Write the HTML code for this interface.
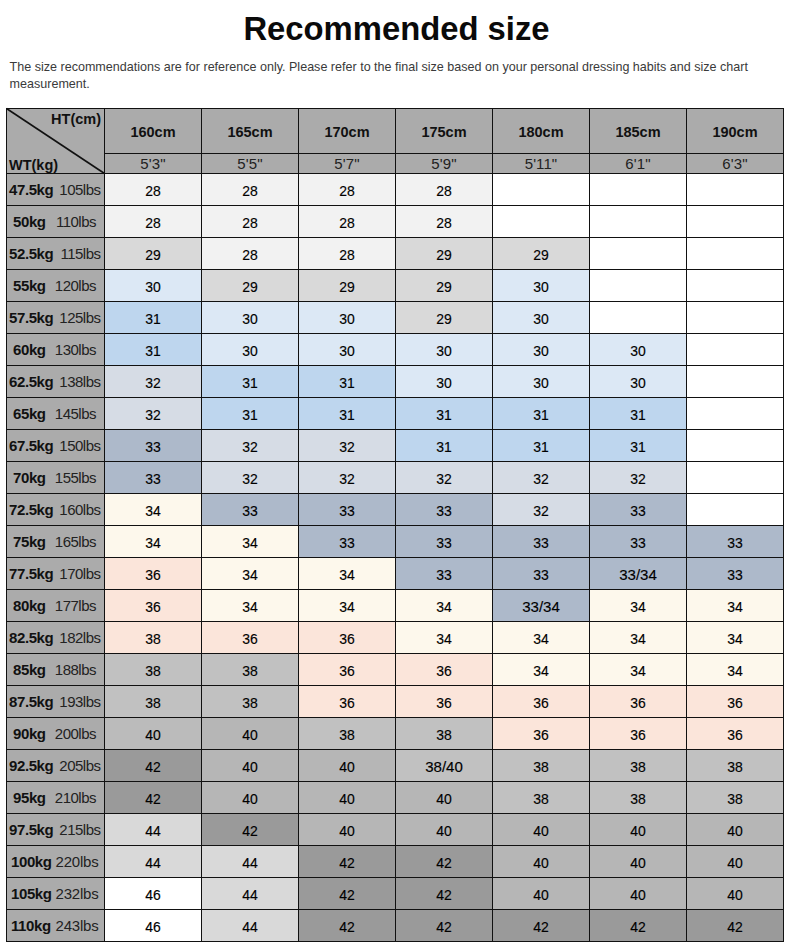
<!DOCTYPE html>
<html><head><meta charset="utf-8"><style>
html,body{margin:0;padding:0;background:#fff;}
body{width:790px;height:945px;position:relative;overflow:hidden;font-family:"Liberation Sans",sans-serif;color:#111;}
.a{position:absolute;}
.c{position:absolute;text-align:center;white-space:nowrap;}
.h{position:absolute;background:#111;}
.t{font-size:15.5px;line-height:15.5px;transform:scaleX(0.9);color:#000;-webkit-text-stroke:0.15px #000;}
.t2{transform:scaleX(0.97);}
.b{font-weight:bold;}
</style></head><body>
<div class="a b" style="left:1px;width:791px;top:11.6px;text-align:center;font-size:32.8px;line-height:33px;color:#0a0a0a;">Recommended size</div>
<div class="a" style="left:9.6px;top:59px;font-size:12.56px;line-height:17px;color:#3a3a3a;white-space:nowrap;">The size recommendations are for reference only. Please refer to the final size based on your personal dressing habits and size chart<br>measurement.</div>
<div class="a" style="left:6px;top:108px;width:777px;height:65px;background:#ababab;"></div>
<div class="a" style="left:6px;top:173px;width:98px;height:768px;background:#ababab;"></div>
<div class="a" style="left:104px;top:173px;width:97px;height:32px;background:#f2f2f2;"></div>
<div class="a" style="left:201px;top:173px;width:97px;height:32px;background:#f2f2f2;"></div>
<div class="a" style="left:298px;top:173px;width:97px;height:32px;background:#f2f2f2;"></div>
<div class="a" style="left:395px;top:173px;width:97px;height:32px;background:#f2f2f2;"></div>
<div class="a" style="left:492px;top:173px;width:97px;height:32px;background:#ffffff;"></div>
<div class="a" style="left:589px;top:173px;width:97px;height:32px;background:#ffffff;"></div>
<div class="a" style="left:686px;top:173px;width:97px;height:32px;background:#ffffff;"></div>
<div class="a" style="left:104px;top:205px;width:97px;height:32px;background:#f2f2f2;"></div>
<div class="a" style="left:201px;top:205px;width:97px;height:32px;background:#f2f2f2;"></div>
<div class="a" style="left:298px;top:205px;width:97px;height:32px;background:#f2f2f2;"></div>
<div class="a" style="left:395px;top:205px;width:97px;height:32px;background:#f2f2f2;"></div>
<div class="a" style="left:492px;top:205px;width:97px;height:32px;background:#ffffff;"></div>
<div class="a" style="left:589px;top:205px;width:97px;height:32px;background:#ffffff;"></div>
<div class="a" style="left:686px;top:205px;width:97px;height:32px;background:#ffffff;"></div>
<div class="a" style="left:104px;top:237px;width:97px;height:32px;background:#d9d9d9;"></div>
<div class="a" style="left:201px;top:237px;width:97px;height:32px;background:#f2f2f2;"></div>
<div class="a" style="left:298px;top:237px;width:97px;height:32px;background:#f2f2f2;"></div>
<div class="a" style="left:395px;top:237px;width:97px;height:32px;background:#d9d9d9;"></div>
<div class="a" style="left:492px;top:237px;width:97px;height:32px;background:#d9d9d9;"></div>
<div class="a" style="left:589px;top:237px;width:97px;height:32px;background:#ffffff;"></div>
<div class="a" style="left:686px;top:237px;width:97px;height:32px;background:#ffffff;"></div>
<div class="a" style="left:104px;top:269px;width:97px;height:32px;background:#dce8f5;"></div>
<div class="a" style="left:201px;top:269px;width:97px;height:32px;background:#d9d9d9;"></div>
<div class="a" style="left:298px;top:269px;width:97px;height:32px;background:#d9d9d9;"></div>
<div class="a" style="left:395px;top:269px;width:97px;height:32px;background:#d9d9d9;"></div>
<div class="a" style="left:492px;top:269px;width:97px;height:32px;background:#dce8f5;"></div>
<div class="a" style="left:589px;top:269px;width:97px;height:32px;background:#ffffff;"></div>
<div class="a" style="left:686px;top:269px;width:97px;height:32px;background:#ffffff;"></div>
<div class="a" style="left:104px;top:301px;width:97px;height:32px;background:#bed6ee;"></div>
<div class="a" style="left:201px;top:301px;width:97px;height:32px;background:#dce8f5;"></div>
<div class="a" style="left:298px;top:301px;width:97px;height:32px;background:#dce8f5;"></div>
<div class="a" style="left:395px;top:301px;width:97px;height:32px;background:#d9d9d9;"></div>
<div class="a" style="left:492px;top:301px;width:97px;height:32px;background:#dce8f5;"></div>
<div class="a" style="left:589px;top:301px;width:97px;height:32px;background:#ffffff;"></div>
<div class="a" style="left:686px;top:301px;width:97px;height:32px;background:#ffffff;"></div>
<div class="a" style="left:104px;top:333px;width:97px;height:32px;background:#bed6ee;"></div>
<div class="a" style="left:201px;top:333px;width:97px;height:32px;background:#dce8f5;"></div>
<div class="a" style="left:298px;top:333px;width:97px;height:32px;background:#dce8f5;"></div>
<div class="a" style="left:395px;top:333px;width:97px;height:32px;background:#dce8f5;"></div>
<div class="a" style="left:492px;top:333px;width:97px;height:32px;background:#dce8f5;"></div>
<div class="a" style="left:589px;top:333px;width:97px;height:32px;background:#dce8f5;"></div>
<div class="a" style="left:686px;top:333px;width:97px;height:32px;background:#ffffff;"></div>
<div class="a" style="left:104px;top:365px;width:97px;height:32px;background:#d6dce5;"></div>
<div class="a" style="left:201px;top:365px;width:97px;height:32px;background:#bed6ee;"></div>
<div class="a" style="left:298px;top:365px;width:97px;height:32px;background:#bed6ee;"></div>
<div class="a" style="left:395px;top:365px;width:97px;height:32px;background:#dce8f5;"></div>
<div class="a" style="left:492px;top:365px;width:97px;height:32px;background:#dce8f5;"></div>
<div class="a" style="left:589px;top:365px;width:97px;height:32px;background:#dce8f5;"></div>
<div class="a" style="left:686px;top:365px;width:97px;height:32px;background:#ffffff;"></div>
<div class="a" style="left:104px;top:397px;width:97px;height:32px;background:#d6dce5;"></div>
<div class="a" style="left:201px;top:397px;width:97px;height:32px;background:#bed6ee;"></div>
<div class="a" style="left:298px;top:397px;width:97px;height:32px;background:#bed6ee;"></div>
<div class="a" style="left:395px;top:397px;width:97px;height:32px;background:#bed6ee;"></div>
<div class="a" style="left:492px;top:397px;width:97px;height:32px;background:#bed6ee;"></div>
<div class="a" style="left:589px;top:397px;width:97px;height:32px;background:#bed6ee;"></div>
<div class="a" style="left:686px;top:397px;width:97px;height:32px;background:#ffffff;"></div>
<div class="a" style="left:104px;top:429px;width:97px;height:32px;background:#adb9ca;"></div>
<div class="a" style="left:201px;top:429px;width:97px;height:32px;background:#d6dce5;"></div>
<div class="a" style="left:298px;top:429px;width:97px;height:32px;background:#d6dce5;"></div>
<div class="a" style="left:395px;top:429px;width:97px;height:32px;background:#bed6ee;"></div>
<div class="a" style="left:492px;top:429px;width:97px;height:32px;background:#bed6ee;"></div>
<div class="a" style="left:589px;top:429px;width:97px;height:32px;background:#bed6ee;"></div>
<div class="a" style="left:686px;top:429px;width:97px;height:32px;background:#ffffff;"></div>
<div class="a" style="left:104px;top:461px;width:97px;height:32px;background:#adb9ca;"></div>
<div class="a" style="left:201px;top:461px;width:97px;height:32px;background:#d6dce5;"></div>
<div class="a" style="left:298px;top:461px;width:97px;height:32px;background:#d6dce5;"></div>
<div class="a" style="left:395px;top:461px;width:97px;height:32px;background:#d6dce5;"></div>
<div class="a" style="left:492px;top:461px;width:97px;height:32px;background:#d6dce5;"></div>
<div class="a" style="left:589px;top:461px;width:97px;height:32px;background:#d6dce5;"></div>
<div class="a" style="left:686px;top:461px;width:97px;height:32px;background:#ffffff;"></div>
<div class="a" style="left:104px;top:493px;width:97px;height:32px;background:#fdf8ec;"></div>
<div class="a" style="left:201px;top:493px;width:97px;height:32px;background:#adb9ca;"></div>
<div class="a" style="left:298px;top:493px;width:97px;height:32px;background:#adb9ca;"></div>
<div class="a" style="left:395px;top:493px;width:97px;height:32px;background:#adb9ca;"></div>
<div class="a" style="left:492px;top:493px;width:97px;height:32px;background:#d6dce5;"></div>
<div class="a" style="left:589px;top:493px;width:97px;height:32px;background:#adb9ca;"></div>
<div class="a" style="left:686px;top:493px;width:97px;height:32px;background:#ffffff;"></div>
<div class="a" style="left:104px;top:525px;width:97px;height:32px;background:#fdf8ec;"></div>
<div class="a" style="left:201px;top:525px;width:97px;height:32px;background:#fdf8ec;"></div>
<div class="a" style="left:298px;top:525px;width:97px;height:32px;background:#adb9ca;"></div>
<div class="a" style="left:395px;top:525px;width:97px;height:32px;background:#adb9ca;"></div>
<div class="a" style="left:492px;top:525px;width:97px;height:32px;background:#adb9ca;"></div>
<div class="a" style="left:589px;top:525px;width:97px;height:32px;background:#adb9ca;"></div>
<div class="a" style="left:686px;top:525px;width:97px;height:32px;background:#adb9ca;"></div>
<div class="a" style="left:104px;top:557px;width:97px;height:32px;background:#fbe5da;"></div>
<div class="a" style="left:201px;top:557px;width:97px;height:32px;background:#fdf8ec;"></div>
<div class="a" style="left:298px;top:557px;width:97px;height:32px;background:#fdf8ec;"></div>
<div class="a" style="left:395px;top:557px;width:97px;height:32px;background:#adb9ca;"></div>
<div class="a" style="left:492px;top:557px;width:97px;height:32px;background:#adb9ca;"></div>
<div class="a" style="left:589px;top:557px;width:97px;height:32px;background:#adb9ca;"></div>
<div class="a" style="left:686px;top:557px;width:97px;height:32px;background:#adb9ca;"></div>
<div class="a" style="left:104px;top:589px;width:97px;height:32px;background:#fbe5da;"></div>
<div class="a" style="left:201px;top:589px;width:97px;height:32px;background:#fdf8ec;"></div>
<div class="a" style="left:298px;top:589px;width:97px;height:32px;background:#fdf8ec;"></div>
<div class="a" style="left:395px;top:589px;width:97px;height:32px;background:#fdf8ec;"></div>
<div class="a" style="left:492px;top:589px;width:97px;height:32px;background:#adb9ca;"></div>
<div class="a" style="left:589px;top:589px;width:97px;height:32px;background:#fdf8ec;"></div>
<div class="a" style="left:686px;top:589px;width:97px;height:32px;background:#fdf8ec;"></div>
<div class="a" style="left:104px;top:621px;width:97px;height:32px;background:#fbe5da;"></div>
<div class="a" style="left:201px;top:621px;width:97px;height:32px;background:#fbe5da;"></div>
<div class="a" style="left:298px;top:621px;width:97px;height:32px;background:#fbe5da;"></div>
<div class="a" style="left:395px;top:621px;width:97px;height:32px;background:#fdf8ec;"></div>
<div class="a" style="left:492px;top:621px;width:97px;height:32px;background:#fdf8ec;"></div>
<div class="a" style="left:589px;top:621px;width:97px;height:32px;background:#fdf8ec;"></div>
<div class="a" style="left:686px;top:621px;width:97px;height:32px;background:#fdf8ec;"></div>
<div class="a" style="left:104px;top:653px;width:97px;height:32px;background:#c1c1c1;"></div>
<div class="a" style="left:201px;top:653px;width:97px;height:32px;background:#c1c1c1;"></div>
<div class="a" style="left:298px;top:653px;width:97px;height:32px;background:#fbe5da;"></div>
<div class="a" style="left:395px;top:653px;width:97px;height:32px;background:#fbe5da;"></div>
<div class="a" style="left:492px;top:653px;width:97px;height:32px;background:#fdf8ec;"></div>
<div class="a" style="left:589px;top:653px;width:97px;height:32px;background:#fdf8ec;"></div>
<div class="a" style="left:686px;top:653px;width:97px;height:32px;background:#fdf8ec;"></div>
<div class="a" style="left:104px;top:685px;width:97px;height:32px;background:#c1c1c1;"></div>
<div class="a" style="left:201px;top:685px;width:97px;height:32px;background:#c1c1c1;"></div>
<div class="a" style="left:298px;top:685px;width:97px;height:32px;background:#fbe5da;"></div>
<div class="a" style="left:395px;top:685px;width:97px;height:32px;background:#fbe5da;"></div>
<div class="a" style="left:492px;top:685px;width:97px;height:32px;background:#fbe5da;"></div>
<div class="a" style="left:589px;top:685px;width:97px;height:32px;background:#fbe5da;"></div>
<div class="a" style="left:686px;top:685px;width:97px;height:32px;background:#fbe5da;"></div>
<div class="a" style="left:104px;top:717px;width:97px;height:32px;background:#bbbbbb;"></div>
<div class="a" style="left:201px;top:717px;width:97px;height:32px;background:#b6b6b6;"></div>
<div class="a" style="left:298px;top:717px;width:97px;height:32px;background:#c1c1c1;"></div>
<div class="a" style="left:395px;top:717px;width:97px;height:32px;background:#c1c1c1;"></div>
<div class="a" style="left:492px;top:717px;width:97px;height:32px;background:#fbe5da;"></div>
<div class="a" style="left:589px;top:717px;width:97px;height:32px;background:#fbe5da;"></div>
<div class="a" style="left:686px;top:717px;width:97px;height:32px;background:#fbe5da;"></div>
<div class="a" style="left:104px;top:749px;width:97px;height:32px;background:#9a9a9a;"></div>
<div class="a" style="left:201px;top:749px;width:97px;height:32px;background:#b6b6b6;"></div>
<div class="a" style="left:298px;top:749px;width:97px;height:32px;background:#b6b6b6;"></div>
<div class="a" style="left:395px;top:749px;width:97px;height:32px;background:#c1c1c1;"></div>
<div class="a" style="left:492px;top:749px;width:97px;height:32px;background:#c1c1c1;"></div>
<div class="a" style="left:589px;top:749px;width:97px;height:32px;background:#c1c1c1;"></div>
<div class="a" style="left:686px;top:749px;width:97px;height:32px;background:#c1c1c1;"></div>
<div class="a" style="left:104px;top:781px;width:97px;height:32px;background:#9a9a9a;"></div>
<div class="a" style="left:201px;top:781px;width:97px;height:32px;background:#b6b6b6;"></div>
<div class="a" style="left:298px;top:781px;width:97px;height:32px;background:#b6b6b6;"></div>
<div class="a" style="left:395px;top:781px;width:97px;height:32px;background:#b6b6b6;"></div>
<div class="a" style="left:492px;top:781px;width:97px;height:32px;background:#c1c1c1;"></div>
<div class="a" style="left:589px;top:781px;width:97px;height:32px;background:#c1c1c1;"></div>
<div class="a" style="left:686px;top:781px;width:97px;height:32px;background:#c1c1c1;"></div>
<div class="a" style="left:104px;top:813px;width:97px;height:32px;background:#d9d9d9;"></div>
<div class="a" style="left:201px;top:813px;width:97px;height:32px;background:#9a9a9a;"></div>
<div class="a" style="left:298px;top:813px;width:97px;height:32px;background:#b6b6b6;"></div>
<div class="a" style="left:395px;top:813px;width:97px;height:32px;background:#b6b6b6;"></div>
<div class="a" style="left:492px;top:813px;width:97px;height:32px;background:#b6b6b6;"></div>
<div class="a" style="left:589px;top:813px;width:97px;height:32px;background:#b6b6b6;"></div>
<div class="a" style="left:686px;top:813px;width:97px;height:32px;background:#b6b6b6;"></div>
<div class="a" style="left:104px;top:845px;width:97px;height:32px;background:#d9d9d9;"></div>
<div class="a" style="left:201px;top:845px;width:97px;height:32px;background:#d9d9d9;"></div>
<div class="a" style="left:298px;top:845px;width:97px;height:32px;background:#9a9a9a;"></div>
<div class="a" style="left:395px;top:845px;width:97px;height:32px;background:#9a9a9a;"></div>
<div class="a" style="left:492px;top:845px;width:97px;height:32px;background:#b6b6b6;"></div>
<div class="a" style="left:589px;top:845px;width:97px;height:32px;background:#b6b6b6;"></div>
<div class="a" style="left:686px;top:845px;width:97px;height:32px;background:#b6b6b6;"></div>
<div class="a" style="left:104px;top:877px;width:97px;height:32px;background:#ffffff;"></div>
<div class="a" style="left:201px;top:877px;width:97px;height:32px;background:#d9d9d9;"></div>
<div class="a" style="left:298px;top:877px;width:97px;height:32px;background:#9a9a9a;"></div>
<div class="a" style="left:395px;top:877px;width:97px;height:32px;background:#9a9a9a;"></div>
<div class="a" style="left:492px;top:877px;width:97px;height:32px;background:#b6b6b6;"></div>
<div class="a" style="left:589px;top:877px;width:97px;height:32px;background:#b6b6b6;"></div>
<div class="a" style="left:686px;top:877px;width:97px;height:32px;background:#b6b6b6;"></div>
<div class="a" style="left:104px;top:909px;width:97px;height:32px;background:#ffffff;"></div>
<div class="a" style="left:201px;top:909px;width:97px;height:32px;background:#d9d9d9;"></div>
<div class="a" style="left:298px;top:909px;width:97px;height:32px;background:#9a9a9a;"></div>
<div class="a" style="left:395px;top:909px;width:97px;height:32px;background:#9a9a9a;"></div>
<div class="a" style="left:492px;top:909px;width:97px;height:32px;background:#9a9a9a;"></div>
<div class="a" style="left:589px;top:909px;width:97px;height:32px;background:#9a9a9a;"></div>
<div class="a" style="left:686px;top:909px;width:97px;height:32px;background:#9a9a9a;"></div>
<svg class="a" style="left:0;top:0" width="790" height="945"><line x1="6.5" y1="108.5" x2="104.5" y2="173.5" stroke="#111" stroke-width="1.6"/></svg>
<div class="h" style="left:6px;top:108px;width:1.4px;height:834px;"></div>
<div class="h" style="left:104px;top:108px;width:1.4px;height:834px;"></div>
<div class="h" style="left:201px;top:108px;width:1.4px;height:834px;"></div>
<div class="h" style="left:298px;top:108px;width:1.4px;height:834px;"></div>
<div class="h" style="left:395px;top:108px;width:1.4px;height:834px;"></div>
<div class="h" style="left:492px;top:108px;width:1.4px;height:834px;"></div>
<div class="h" style="left:589px;top:108px;width:1.4px;height:834px;"></div>
<div class="h" style="left:686px;top:108px;width:1.4px;height:834px;"></div>
<div class="h" style="left:783px;top:108px;width:1.4px;height:834px;"></div>
<div class="h" style="left:6px;top:108px;width:778px;height:1.4px;"></div>
<div class="h" style="left:104px;top:153px;width:680px;height:1.4px;"></div>
<div class="h" style="left:6px;top:173px;width:778px;height:1.4px;"></div>
<div class="h" style="left:6px;top:205px;width:778px;height:1.4px;"></div>
<div class="h" style="left:6px;top:237px;width:778px;height:1.4px;"></div>
<div class="h" style="left:6px;top:269px;width:778px;height:1.4px;"></div>
<div class="h" style="left:6px;top:301px;width:778px;height:1.4px;"></div>
<div class="h" style="left:6px;top:333px;width:778px;height:1.4px;"></div>
<div class="h" style="left:6px;top:365px;width:778px;height:1.4px;"></div>
<div class="h" style="left:6px;top:397px;width:778px;height:1.4px;"></div>
<div class="h" style="left:6px;top:429px;width:778px;height:1.4px;"></div>
<div class="h" style="left:6px;top:461px;width:778px;height:1.4px;"></div>
<div class="h" style="left:6px;top:493px;width:778px;height:1.4px;"></div>
<div class="h" style="left:6px;top:525px;width:778px;height:1.4px;"></div>
<div class="h" style="left:6px;top:557px;width:778px;height:1.4px;"></div>
<div class="h" style="left:6px;top:589px;width:778px;height:1.4px;"></div>
<div class="h" style="left:6px;top:621px;width:778px;height:1.4px;"></div>
<div class="h" style="left:6px;top:653px;width:778px;height:1.4px;"></div>
<div class="h" style="left:6px;top:685px;width:778px;height:1.4px;"></div>
<div class="h" style="left:6px;top:717px;width:778px;height:1.4px;"></div>
<div class="h" style="left:6px;top:749px;width:778px;height:1.4px;"></div>
<div class="h" style="left:6px;top:781px;width:778px;height:1.4px;"></div>
<div class="h" style="left:6px;top:813px;width:778px;height:1.4px;"></div>
<div class="h" style="left:6px;top:845px;width:778px;height:1.4px;"></div>
<div class="h" style="left:6px;top:877px;width:778px;height:1.4px;"></div>
<div class="h" style="left:6px;top:909px;width:778px;height:1.4px;"></div>
<div class="h" style="left:6px;top:941px;width:778px;height:1.4px;"></div>
<div class="a b" style="left:0;width:101px;text-align:right;top:112px;font-size:14.5px;line-height:14.5px;">HT(cm)</div>
<div class="a b" style="left:9px;top:158px;font-size:14.5px;line-height:14.5px;">WT(kg)</div>
<div class="c b" style="left:105px;width:96px;top:124.8px;font-size:14.5px;line-height:14.5px;">160cm</div>
<div class="c" style="left:105px;width:96px;top:155.7px;font-size:15px;line-height:15px;color:#222;letter-spacing:0.1px;">5'3"</div>
<div class="c b" style="left:202px;width:96px;top:124.8px;font-size:14.5px;line-height:14.5px;">165cm</div>
<div class="c" style="left:202px;width:96px;top:155.7px;font-size:15px;line-height:15px;color:#222;letter-spacing:0.1px;">5'5"</div>
<div class="c b" style="left:299px;width:96px;top:124.8px;font-size:14.5px;line-height:14.5px;">170cm</div>
<div class="c" style="left:299px;width:96px;top:155.7px;font-size:15px;line-height:15px;color:#222;letter-spacing:0.1px;">5'7"</div>
<div class="c b" style="left:396px;width:96px;top:124.8px;font-size:14.5px;line-height:14.5px;">175cm</div>
<div class="c" style="left:396px;width:96px;top:155.7px;font-size:15px;line-height:15px;color:#222;letter-spacing:0.1px;">5'9"</div>
<div class="c b" style="left:493px;width:96px;top:124.8px;font-size:14.5px;line-height:14.5px;">180cm</div>
<div class="c" style="left:493px;width:96px;top:155.7px;font-size:15px;line-height:15px;color:#222;letter-spacing:0.1px;">5'11"</div>
<div class="c b" style="left:590px;width:96px;top:124.8px;font-size:14.5px;line-height:14.5px;">185cm</div>
<div class="c" style="left:590px;width:96px;top:155.7px;font-size:15px;line-height:15px;color:#222;letter-spacing:0.1px;">6'1"</div>
<div class="c b" style="left:687px;width:96px;top:124.8px;font-size:14.5px;line-height:14.5px;">190cm</div>
<div class="c" style="left:687px;width:96px;top:155.7px;font-size:15px;line-height:15px;color:#222;letter-spacing:0.1px;">6'3"</div>
<div class="a b" style="left:9px;top:182.3px;font-size:15px;line-height:15px;letter-spacing:-0.4px;white-space:nowrap;">47.5kg</div>
<div class="a" style="left:0;width:100.5px;text-align:right;top:182.3px;font-size:15px;line-height:15px;letter-spacing:-0.5px;color:#222;white-space:nowrap;">105lbs</div>
<div class="c t" style="left:105px;width:96px;top:182.6px;">28</div>
<div class="c t" style="left:202px;width:96px;top:182.6px;">28</div>
<div class="c t" style="left:299px;width:96px;top:182.6px;">28</div>
<div class="c t" style="left:396px;width:96px;top:182.6px;">28</div>
<div class="a b" style="left:13px;top:214.3px;font-size:15px;line-height:15px;letter-spacing:-0.4px;white-space:nowrap;">50kg</div>
<div class="a" style="left:0;width:96px;text-align:right;top:214.3px;font-size:15px;line-height:15px;letter-spacing:-0.5px;color:#222;white-space:nowrap;">110lbs</div>
<div class="c t" style="left:105px;width:96px;top:214.6px;">28</div>
<div class="c t" style="left:202px;width:96px;top:214.6px;">28</div>
<div class="c t" style="left:299px;width:96px;top:214.6px;">28</div>
<div class="c t" style="left:396px;width:96px;top:214.6px;">28</div>
<div class="a b" style="left:9px;top:246.3px;font-size:15px;line-height:15px;letter-spacing:-0.4px;white-space:nowrap;">52.5kg</div>
<div class="a" style="left:0;width:100.5px;text-align:right;top:246.3px;font-size:15px;line-height:15px;letter-spacing:-0.5px;color:#222;white-space:nowrap;">115lbs</div>
<div class="c t" style="left:105px;width:96px;top:246.6px;">29</div>
<div class="c t" style="left:202px;width:96px;top:246.6px;">28</div>
<div class="c t" style="left:299px;width:96px;top:246.6px;">28</div>
<div class="c t" style="left:396px;width:96px;top:246.6px;">29</div>
<div class="c t" style="left:493px;width:96px;top:246.6px;">29</div>
<div class="a b" style="left:13px;top:278.3px;font-size:15px;line-height:15px;letter-spacing:-0.4px;white-space:nowrap;">55kg</div>
<div class="a" style="left:0;width:96px;text-align:right;top:278.3px;font-size:15px;line-height:15px;letter-spacing:-0.5px;color:#222;white-space:nowrap;">120lbs</div>
<div class="c t" style="left:105px;width:96px;top:278.6px;">30</div>
<div class="c t" style="left:202px;width:96px;top:278.6px;">29</div>
<div class="c t" style="left:299px;width:96px;top:278.6px;">29</div>
<div class="c t" style="left:396px;width:96px;top:278.6px;">29</div>
<div class="c t" style="left:493px;width:96px;top:278.6px;">30</div>
<div class="a b" style="left:9px;top:310.3px;font-size:15px;line-height:15px;letter-spacing:-0.4px;white-space:nowrap;">57.5kg</div>
<div class="a" style="left:0;width:100.5px;text-align:right;top:310.3px;font-size:15px;line-height:15px;letter-spacing:-0.5px;color:#222;white-space:nowrap;">125lbs</div>
<div class="c t" style="left:105px;width:96px;top:310.6px;">31</div>
<div class="c t" style="left:202px;width:96px;top:310.6px;">30</div>
<div class="c t" style="left:299px;width:96px;top:310.6px;">30</div>
<div class="c t" style="left:396px;width:96px;top:310.6px;">29</div>
<div class="c t" style="left:493px;width:96px;top:310.6px;">30</div>
<div class="a b" style="left:13px;top:342.3px;font-size:15px;line-height:15px;letter-spacing:-0.4px;white-space:nowrap;">60kg</div>
<div class="a" style="left:0;width:96px;text-align:right;top:342.3px;font-size:15px;line-height:15px;letter-spacing:-0.5px;color:#222;white-space:nowrap;">130lbs</div>
<div class="c t" style="left:105px;width:96px;top:342.6px;">31</div>
<div class="c t" style="left:202px;width:96px;top:342.6px;">30</div>
<div class="c t" style="left:299px;width:96px;top:342.6px;">30</div>
<div class="c t" style="left:396px;width:96px;top:342.6px;">30</div>
<div class="c t" style="left:493px;width:96px;top:342.6px;">30</div>
<div class="c t" style="left:590px;width:96px;top:342.6px;">30</div>
<div class="a b" style="left:9px;top:374.3px;font-size:15px;line-height:15px;letter-spacing:-0.4px;white-space:nowrap;">62.5kg</div>
<div class="a" style="left:0;width:100.5px;text-align:right;top:374.3px;font-size:15px;line-height:15px;letter-spacing:-0.5px;color:#222;white-space:nowrap;">138lbs</div>
<div class="c t" style="left:105px;width:96px;top:374.6px;">32</div>
<div class="c t" style="left:202px;width:96px;top:374.6px;">31</div>
<div class="c t" style="left:299px;width:96px;top:374.6px;">31</div>
<div class="c t" style="left:396px;width:96px;top:374.6px;">30</div>
<div class="c t" style="left:493px;width:96px;top:374.6px;">30</div>
<div class="c t" style="left:590px;width:96px;top:374.6px;">30</div>
<div class="a b" style="left:13px;top:406.3px;font-size:15px;line-height:15px;letter-spacing:-0.4px;white-space:nowrap;">65kg</div>
<div class="a" style="left:0;width:96px;text-align:right;top:406.3px;font-size:15px;line-height:15px;letter-spacing:-0.5px;color:#222;white-space:nowrap;">145lbs</div>
<div class="c t" style="left:105px;width:96px;top:406.6px;">32</div>
<div class="c t" style="left:202px;width:96px;top:406.6px;">31</div>
<div class="c t" style="left:299px;width:96px;top:406.6px;">31</div>
<div class="c t" style="left:396px;width:96px;top:406.6px;">31</div>
<div class="c t" style="left:493px;width:96px;top:406.6px;">31</div>
<div class="c t" style="left:590px;width:96px;top:406.6px;">31</div>
<div class="a b" style="left:9px;top:438.3px;font-size:15px;line-height:15px;letter-spacing:-0.4px;white-space:nowrap;">67.5kg</div>
<div class="a" style="left:0;width:100.5px;text-align:right;top:438.3px;font-size:15px;line-height:15px;letter-spacing:-0.5px;color:#222;white-space:nowrap;">150lbs</div>
<div class="c t" style="left:105px;width:96px;top:438.6px;">33</div>
<div class="c t" style="left:202px;width:96px;top:438.6px;">32</div>
<div class="c t" style="left:299px;width:96px;top:438.6px;">32</div>
<div class="c t" style="left:396px;width:96px;top:438.6px;">31</div>
<div class="c t" style="left:493px;width:96px;top:438.6px;">31</div>
<div class="c t" style="left:590px;width:96px;top:438.6px;">31</div>
<div class="a b" style="left:13px;top:470.3px;font-size:15px;line-height:15px;letter-spacing:-0.4px;white-space:nowrap;">70kg</div>
<div class="a" style="left:0;width:96px;text-align:right;top:470.3px;font-size:15px;line-height:15px;letter-spacing:-0.5px;color:#222;white-space:nowrap;">155lbs</div>
<div class="c t" style="left:105px;width:96px;top:470.6px;">33</div>
<div class="c t" style="left:202px;width:96px;top:470.6px;">32</div>
<div class="c t" style="left:299px;width:96px;top:470.6px;">32</div>
<div class="c t" style="left:396px;width:96px;top:470.6px;">32</div>
<div class="c t" style="left:493px;width:96px;top:470.6px;">32</div>
<div class="c t" style="left:590px;width:96px;top:470.6px;">32</div>
<div class="a b" style="left:9px;top:502.3px;font-size:15px;line-height:15px;letter-spacing:-0.4px;white-space:nowrap;">72.5kg</div>
<div class="a" style="left:0;width:100.5px;text-align:right;top:502.3px;font-size:15px;line-height:15px;letter-spacing:-0.5px;color:#222;white-space:nowrap;">160lbs</div>
<div class="c t" style="left:105px;width:96px;top:502.6px;">34</div>
<div class="c t" style="left:202px;width:96px;top:502.6px;">33</div>
<div class="c t" style="left:299px;width:96px;top:502.6px;">33</div>
<div class="c t" style="left:396px;width:96px;top:502.6px;">33</div>
<div class="c t" style="left:493px;width:96px;top:502.6px;">32</div>
<div class="c t" style="left:590px;width:96px;top:502.6px;">33</div>
<div class="a b" style="left:13px;top:534.3px;font-size:15px;line-height:15px;letter-spacing:-0.4px;white-space:nowrap;">75kg</div>
<div class="a" style="left:0;width:96px;text-align:right;top:534.3px;font-size:15px;line-height:15px;letter-spacing:-0.5px;color:#222;white-space:nowrap;">165lbs</div>
<div class="c t" style="left:105px;width:96px;top:534.6px;">34</div>
<div class="c t" style="left:202px;width:96px;top:534.6px;">34</div>
<div class="c t" style="left:299px;width:96px;top:534.6px;">33</div>
<div class="c t" style="left:396px;width:96px;top:534.6px;">33</div>
<div class="c t" style="left:493px;width:96px;top:534.6px;">33</div>
<div class="c t" style="left:590px;width:96px;top:534.6px;">33</div>
<div class="c t" style="left:687px;width:96px;top:534.6px;">33</div>
<div class="a b" style="left:9px;top:566.3px;font-size:15px;line-height:15px;letter-spacing:-0.4px;white-space:nowrap;">77.5kg</div>
<div class="a" style="left:0;width:100.5px;text-align:right;top:566.3px;font-size:15px;line-height:15px;letter-spacing:-0.5px;color:#222;white-space:nowrap;">170lbs</div>
<div class="c t" style="left:105px;width:96px;top:566.6px;">36</div>
<div class="c t" style="left:202px;width:96px;top:566.6px;">34</div>
<div class="c t" style="left:299px;width:96px;top:566.6px;">34</div>
<div class="c t" style="left:396px;width:96px;top:566.6px;">33</div>
<div class="c t" style="left:493px;width:96px;top:566.6px;">33</div>
<div class="c t t2" style="left:590px;width:96px;top:566.6px;">33/34</div>
<div class="c t" style="left:687px;width:96px;top:566.6px;">33</div>
<div class="a b" style="left:13px;top:598.3px;font-size:15px;line-height:15px;letter-spacing:-0.4px;white-space:nowrap;">80kg</div>
<div class="a" style="left:0;width:96px;text-align:right;top:598.3px;font-size:15px;line-height:15px;letter-spacing:-0.5px;color:#222;white-space:nowrap;">177lbs</div>
<div class="c t" style="left:105px;width:96px;top:598.6px;">36</div>
<div class="c t" style="left:202px;width:96px;top:598.6px;">34</div>
<div class="c t" style="left:299px;width:96px;top:598.6px;">34</div>
<div class="c t" style="left:396px;width:96px;top:598.6px;">34</div>
<div class="c t t2" style="left:493px;width:96px;top:598.6px;">33/34</div>
<div class="c t" style="left:590px;width:96px;top:598.6px;">34</div>
<div class="c t" style="left:687px;width:96px;top:598.6px;">34</div>
<div class="a b" style="left:9px;top:630.3px;font-size:15px;line-height:15px;letter-spacing:-0.4px;white-space:nowrap;">82.5kg</div>
<div class="a" style="left:0;width:100.5px;text-align:right;top:630.3px;font-size:15px;line-height:15px;letter-spacing:-0.5px;color:#222;white-space:nowrap;">182lbs</div>
<div class="c t" style="left:105px;width:96px;top:630.6px;">38</div>
<div class="c t" style="left:202px;width:96px;top:630.6px;">36</div>
<div class="c t" style="left:299px;width:96px;top:630.6px;">36</div>
<div class="c t" style="left:396px;width:96px;top:630.6px;">34</div>
<div class="c t" style="left:493px;width:96px;top:630.6px;">34</div>
<div class="c t" style="left:590px;width:96px;top:630.6px;">34</div>
<div class="c t" style="left:687px;width:96px;top:630.6px;">34</div>
<div class="a b" style="left:13px;top:662.3px;font-size:15px;line-height:15px;letter-spacing:-0.4px;white-space:nowrap;">85kg</div>
<div class="a" style="left:0;width:96px;text-align:right;top:662.3px;font-size:15px;line-height:15px;letter-spacing:-0.5px;color:#222;white-space:nowrap;">188lbs</div>
<div class="c t" style="left:105px;width:96px;top:662.6px;">38</div>
<div class="c t" style="left:202px;width:96px;top:662.6px;">38</div>
<div class="c t" style="left:299px;width:96px;top:662.6px;">36</div>
<div class="c t" style="left:396px;width:96px;top:662.6px;">36</div>
<div class="c t" style="left:493px;width:96px;top:662.6px;">34</div>
<div class="c t" style="left:590px;width:96px;top:662.6px;">34</div>
<div class="c t" style="left:687px;width:96px;top:662.6px;">34</div>
<div class="a b" style="left:9px;top:694.3px;font-size:15px;line-height:15px;letter-spacing:-0.4px;white-space:nowrap;">87.5kg</div>
<div class="a" style="left:0;width:100.5px;text-align:right;top:694.3px;font-size:15px;line-height:15px;letter-spacing:-0.5px;color:#222;white-space:nowrap;">193lbs</div>
<div class="c t" style="left:105px;width:96px;top:694.6px;">38</div>
<div class="c t" style="left:202px;width:96px;top:694.6px;">38</div>
<div class="c t" style="left:299px;width:96px;top:694.6px;">36</div>
<div class="c t" style="left:396px;width:96px;top:694.6px;">36</div>
<div class="c t" style="left:493px;width:96px;top:694.6px;">36</div>
<div class="c t" style="left:590px;width:96px;top:694.6px;">36</div>
<div class="c t" style="left:687px;width:96px;top:694.6px;">36</div>
<div class="a b" style="left:13px;top:726.3px;font-size:15px;line-height:15px;letter-spacing:-0.4px;white-space:nowrap;">90kg</div>
<div class="a" style="left:0;width:96px;text-align:right;top:726.3px;font-size:15px;line-height:15px;letter-spacing:-0.5px;color:#222;white-space:nowrap;">200lbs</div>
<div class="c t" style="left:105px;width:96px;top:726.6px;">40</div>
<div class="c t" style="left:202px;width:96px;top:726.6px;">40</div>
<div class="c t" style="left:299px;width:96px;top:726.6px;">38</div>
<div class="c t" style="left:396px;width:96px;top:726.6px;">38</div>
<div class="c t" style="left:493px;width:96px;top:726.6px;">36</div>
<div class="c t" style="left:590px;width:96px;top:726.6px;">36</div>
<div class="c t" style="left:687px;width:96px;top:726.6px;">36</div>
<div class="a b" style="left:9px;top:758.3px;font-size:15px;line-height:15px;letter-spacing:-0.4px;white-space:nowrap;">92.5kg</div>
<div class="a" style="left:0;width:100.5px;text-align:right;top:758.3px;font-size:15px;line-height:15px;letter-spacing:-0.5px;color:#222;white-space:nowrap;">205lbs</div>
<div class="c t" style="left:105px;width:96px;top:758.6px;">42</div>
<div class="c t" style="left:202px;width:96px;top:758.6px;">40</div>
<div class="c t" style="left:299px;width:96px;top:758.6px;">40</div>
<div class="c t t2" style="left:396px;width:96px;top:758.6px;">38/40</div>
<div class="c t" style="left:493px;width:96px;top:758.6px;">38</div>
<div class="c t" style="left:590px;width:96px;top:758.6px;">38</div>
<div class="c t" style="left:687px;width:96px;top:758.6px;">38</div>
<div class="a b" style="left:13px;top:790.3px;font-size:15px;line-height:15px;letter-spacing:-0.4px;white-space:nowrap;">95kg</div>
<div class="a" style="left:0;width:96px;text-align:right;top:790.3px;font-size:15px;line-height:15px;letter-spacing:-0.5px;color:#222;white-space:nowrap;">210lbs</div>
<div class="c t" style="left:105px;width:96px;top:790.6px;">42</div>
<div class="c t" style="left:202px;width:96px;top:790.6px;">40</div>
<div class="c t" style="left:299px;width:96px;top:790.6px;">40</div>
<div class="c t" style="left:396px;width:96px;top:790.6px;">40</div>
<div class="c t" style="left:493px;width:96px;top:790.6px;">38</div>
<div class="c t" style="left:590px;width:96px;top:790.6px;">38</div>
<div class="c t" style="left:687px;width:96px;top:790.6px;">38</div>
<div class="a b" style="left:9px;top:822.3px;font-size:15px;line-height:15px;letter-spacing:-0.4px;white-space:nowrap;">97.5kg</div>
<div class="a" style="left:0;width:100.5px;text-align:right;top:822.3px;font-size:15px;line-height:15px;letter-spacing:-0.5px;color:#222;white-space:nowrap;">215lbs</div>
<div class="c t" style="left:105px;width:96px;top:822.6px;">44</div>
<div class="c t" style="left:202px;width:96px;top:822.6px;">42</div>
<div class="c t" style="left:299px;width:96px;top:822.6px;">40</div>
<div class="c t" style="left:396px;width:96px;top:822.6px;">40</div>
<div class="c t" style="left:493px;width:96px;top:822.6px;">40</div>
<div class="c t" style="left:590px;width:96px;top:822.6px;">40</div>
<div class="c t" style="left:687px;width:96px;top:822.6px;">40</div>
<div class="a b" style="left:11px;top:854.3px;font-size:15px;line-height:15px;letter-spacing:-0.4px;white-space:nowrap;">100kg</div>
<div class="a" style="left:0;width:98.5px;text-align:right;top:854.3px;font-size:15px;line-height:15px;letter-spacing:-0.2px;color:#222;white-space:nowrap;">220lbs</div>
<div class="c t" style="left:105px;width:96px;top:854.6px;">44</div>
<div class="c t" style="left:202px;width:96px;top:854.6px;">44</div>
<div class="c t" style="left:299px;width:96px;top:854.6px;">42</div>
<div class="c t" style="left:396px;width:96px;top:854.6px;">42</div>
<div class="c t" style="left:493px;width:96px;top:854.6px;">40</div>
<div class="c t" style="left:590px;width:96px;top:854.6px;">40</div>
<div class="c t" style="left:687px;width:96px;top:854.6px;">40</div>
<div class="a b" style="left:11px;top:886.3px;font-size:15px;line-height:15px;letter-spacing:-0.4px;white-space:nowrap;">105kg</div>
<div class="a" style="left:0;width:98.5px;text-align:right;top:886.3px;font-size:15px;line-height:15px;letter-spacing:-0.2px;color:#222;white-space:nowrap;">232lbs</div>
<div class="c t" style="left:105px;width:96px;top:886.6px;">46</div>
<div class="c t" style="left:202px;width:96px;top:886.6px;">44</div>
<div class="c t" style="left:299px;width:96px;top:886.6px;">42</div>
<div class="c t" style="left:396px;width:96px;top:886.6px;">42</div>
<div class="c t" style="left:493px;width:96px;top:886.6px;">40</div>
<div class="c t" style="left:590px;width:96px;top:886.6px;">40</div>
<div class="c t" style="left:687px;width:96px;top:886.6px;">40</div>
<div class="a b" style="left:11px;top:918.3px;font-size:15px;line-height:15px;letter-spacing:-0.4px;white-space:nowrap;">110kg</div>
<div class="a" style="left:0;width:98.5px;text-align:right;top:918.3px;font-size:15px;line-height:15px;letter-spacing:-0.2px;color:#222;white-space:nowrap;">243lbs</div>
<div class="c t" style="left:105px;width:96px;top:918.6px;">46</div>
<div class="c t" style="left:202px;width:96px;top:918.6px;">44</div>
<div class="c t" style="left:299px;width:96px;top:918.6px;">42</div>
<div class="c t" style="left:396px;width:96px;top:918.6px;">42</div>
<div class="c t" style="left:493px;width:96px;top:918.6px;">42</div>
<div class="c t" style="left:590px;width:96px;top:918.6px;">42</div>
<div class="c t" style="left:687px;width:96px;top:918.6px;">42</div>
</body></html>
